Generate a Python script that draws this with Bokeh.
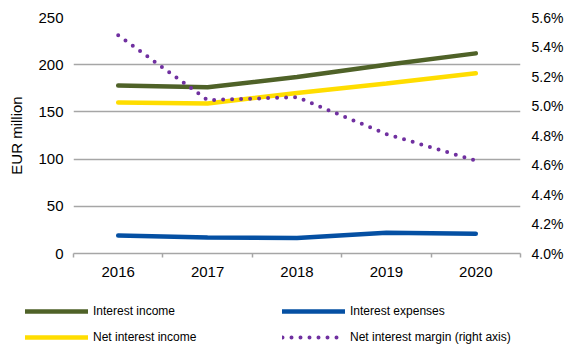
from bokeh.plotting import figure
from bokeh.layouts import column
from bokeh.models import (Range1d, LinearAxis, FixedTicker, PrintfTickFormatter,
                          Legend, LegendItem, ColumnDataSource)
from bokeh.embed import file_html
from bokeh.resources import INLINE

years = ["2016", "2017", "2018", "2019", "2020"]
interest_income = [178, 176, 187, 200, 212]
interest_expenses = [19, 17, 16.5, 22, 21]
net_interest_income = [160, 159, 170, 180, 191]
net_interest_margin = [5.48, 5.04, 5.06, 4.81, 4.63]

left_ticks = [0, 50, 100, 150, 200, 250]
right_ticks = [4.0, 4.2, 4.4, 4.6, 4.8, 5.0, 5.2, 5.4, 5.6]
series_names = ["Interest income", "Interest expenses", "Net interest income",
                "Net interest margin (right axis)"]
series_cols = ["ii", "ie", "nii", "nim"]

FONT = "Liberation Sans"
GRID = "#A6A6A6"
STYLES = [
    dict(line_color="#4F6228", line_width=4.5, line_cap="round"),
    dict(line_color="#0550A3", line_width=4.5, line_cap="round"),
    dict(line_color="#FFDD00", line_width=4.5, line_cap="round"),
    dict(line_color="#7030A0", line_width=4, line_dash="0 9", line_cap="round"),
]

x = list(range(len(years)))
src = ColumnDataSource(dict(x=x, ii=interest_income, ie=interest_expenses,
                            nii=net_interest_income, nim=net_interest_margin))

W = 566
MAIN_H = 290
LEG_H = 56

p = figure(width=W, height=MAIN_H, output_backend="svg", toolbar_location=None,
           x_range=Range1d(-0.5, len(years) - 0.5), y_range=Range1d(0, 250),
           min_border_left=73, min_border_right=45, min_border_top=17,
           min_border_bottom=MAIN_H - 253)
p.frame_align = False
p.outline_line_color = None
p.extra_y_ranges = {"pct": Range1d(4.0, 5.6)}

# x axis
p.xaxis.ticker = FixedTicker(ticks=x, minor_ticks=[i - 0.5 for i in range(len(years) + 1)])
p.xaxis.major_label_overrides = {i: y for i, y in enumerate(years)}
p.xaxis.major_tick_out = 0
p.xaxis.major_tick_in = 0
p.xaxis.minor_tick_out = 4
p.xaxis.minor_tick_in = 0
p.xaxis.minor_tick_line_color = GRID
p.xaxis.axis_line_color = GRID
p.xaxis.axis_line_width = 1.5
p.xaxis.minor_tick_line_width = 1.5
p.xaxis.major_label_text_font = FONT
p.xaxis.major_label_text_font_size = "15px"
p.xaxis.major_label_text_color = "#000000"
p.xaxis.major_label_standoff = 9
p.xgrid.grid_line_color = None

# left axis
p.yaxis.ticker = FixedTicker(ticks=left_ticks)
p.yaxis.axis_line_color = None
p.yaxis.major_tick_line_color = None
p.yaxis.major_tick_out = 0
p.yaxis.minor_tick_line_color = None
p.yaxis.minor_tick_out = 0
p.yaxis.major_label_text_font = FONT
p.yaxis.major_label_text_font_size = "15px"
p.yaxis.major_label_text_color = "#000000"
p.yaxis.major_label_standoff = 10
p.yaxis.axis_label = "EUR million"
p.yaxis.axis_label_text_font = FONT
p.yaxis.axis_label_text_font_size = "15px"
p.yaxis.axis_label_text_font_style = "normal"
p.yaxis.axis_label_text_color = "#000000"
p.yaxis.axis_label_standoff = 10
p.ygrid.ticker = FixedTicker(ticks=left_ticks)
p.ygrid.grid_line_color = GRID
p.ygrid.grid_line_width = 1.5

# right axis
ra = LinearAxis(y_range_name="pct", ticker=FixedTicker(ticks=right_ticks),
                formatter=PrintfTickFormatter(format="%.1f%%"))
ra.axis_line_color = None
ra.major_tick_line_color = None
ra.major_tick_out = 0
ra.minor_tick_line_color = None
ra.minor_tick_out = 0
ra.major_label_text_font = FONT
ra.major_label_text_font_size = "14px"
ra.major_label_text_color = "#000000"
ra.major_label_standoff = 11
p.add_layout(ra, "right")

for col, st in zip(series_cols, STYLES):
    kw = dict(y_range_name="pct") if col == "nim" else {}
    p.line("x", col, source=src, **kw, **st)

# legend strip below the chart (same series, ranges chosen so that only the legend shows)
lg = figure(width=W, height=LEG_H, output_backend="svg", toolbar_location=None,
            x_range=Range1d(100, 101), y_range=Range1d(1000, 1001),
            x_axis_location=None, y_axis_location=None,
            min_border_left=0, min_border_right=0, min_border_top=0, min_border_bottom=0)
lg.frame_align = False
lg.outline_line_color = None
lg.grid.grid_line_color = None
renderers = [lg.line("x", col, source=src, **st) for col, st in zip(series_cols, STYLES)]
# column-major fill: col 1 = items 0, 2 ; col 2 = items 1, 3
order = [0, 2, 1, 3]
items = [LegendItem(label=series_names[i], renderers=[renderers[i]]) for i in order]

legend = Legend(items=items, ncols=2, location=(25, 0))
legend.background_fill_alpha = 0
legend.border_line_color = None
legend.padding = 0
legend.margin = 0
legend.spacing = 8
legend.glyph_width = 63
legend.glyph_height = 18
legend.label_height = 18
legend.label_width = 181
legend.label_standoff = 5
legend.label_text_font = FONT
legend.label_text_font_size = "12px"
legend.label_text_color = "#000000"
lg.add_layout(legend, "center")

open("out.html", "w").write(file_html(column(p, lg, spacing=0), INLINE))
